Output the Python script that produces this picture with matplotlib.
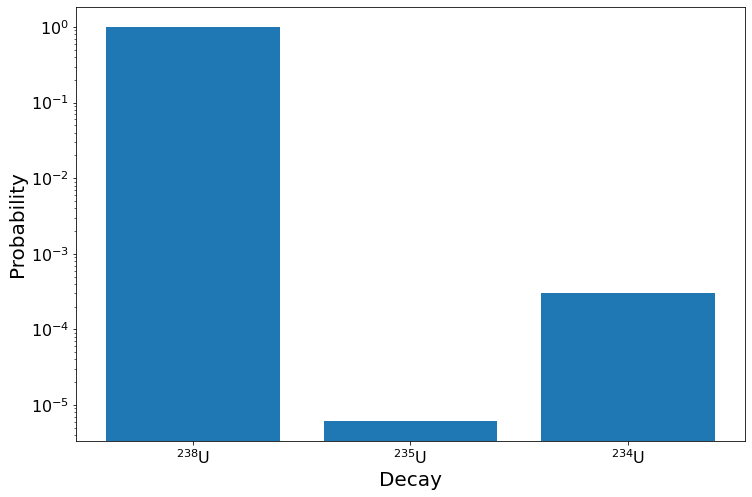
import matplotlib
matplotlib.use("Agg")
import matplotlib.pyplot as plt

isotopes = ["238", "235", "234"]
probability = [0.993, 6.2e-6, 3.0e-4]
tick_labels = [r"$^{%s}$U" % iso for iso in isotopes]

dpi = 72
fig = plt.figure(figsize=(752 / dpi, 497 / dpi), dpi=dpi)
ax = fig.add_axes([76 / 752, 56 / 497, 669 / 752, 434 / 497])

ax.bar(range(len(probability)), probability)
ax.set_yscale("log")
ax.set_ylim(3.34e-6, 1.84)
ax.set_xticks(range(len(probability)))
ax.set_xticklabels(tick_labels)
ax.tick_params(labelsize=16)
ax.set_xlabel("Decay", fontsize=20)
ax.set_ylabel("Probability", fontsize=20)

fig.savefig("out.png", dpi=dpi)
